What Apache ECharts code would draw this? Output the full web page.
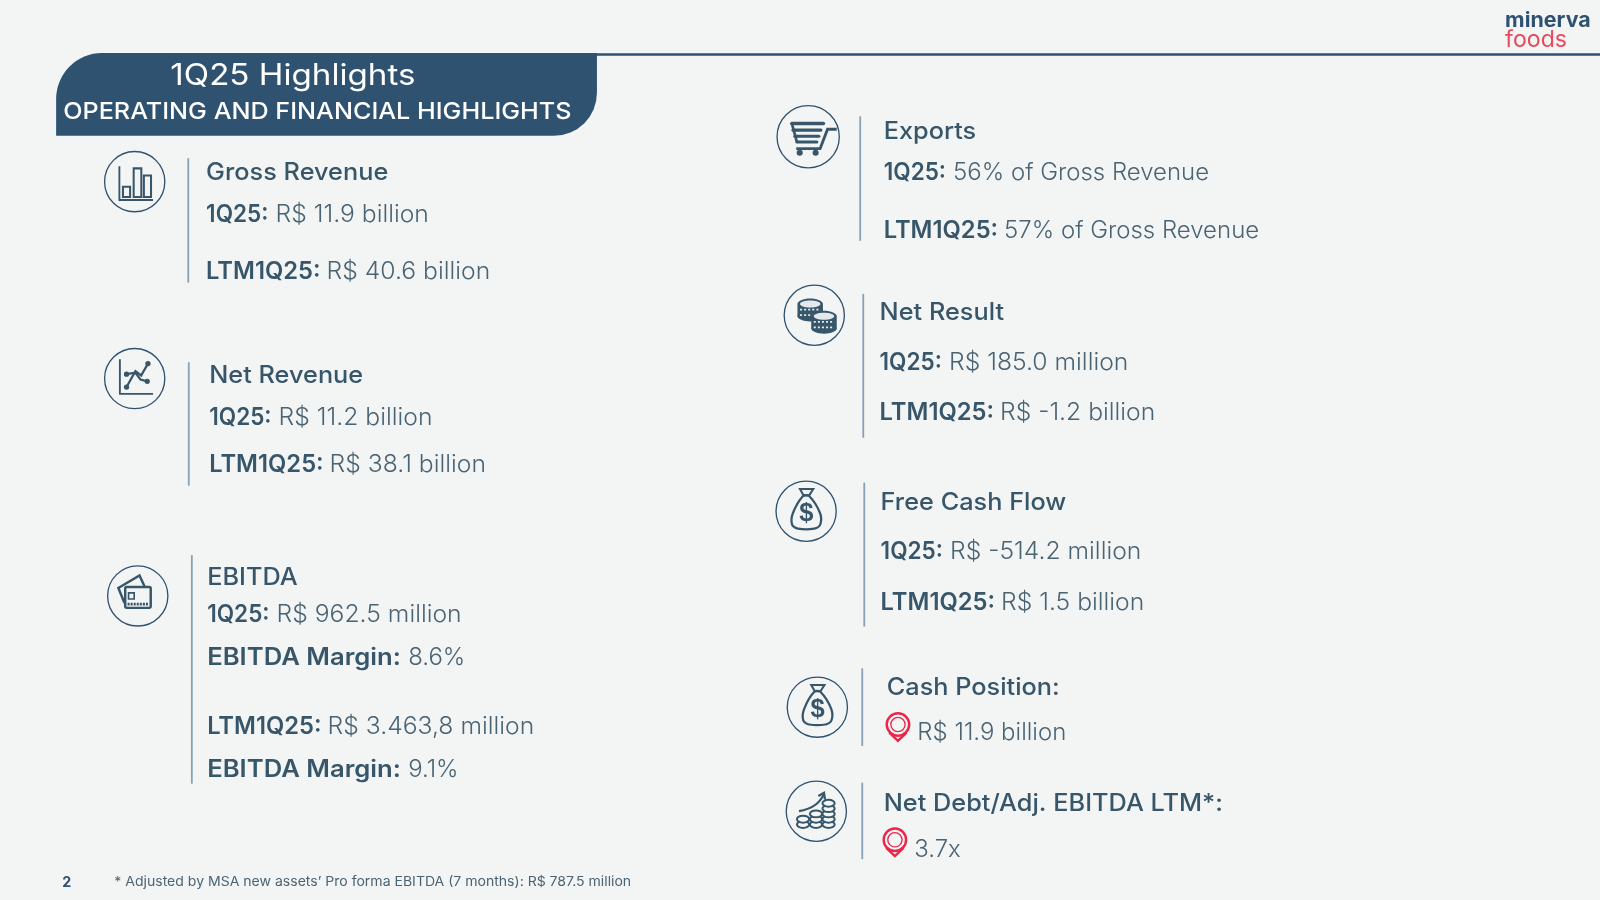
<!DOCTYPE html>
<html lang="en">
<head>
<meta charset="UTF-8">
<title>1Q25 Highlights</title>
<script src="https://cdn.jsdelivr.net/npm/echarts@6/dist/echarts.min.js"></script>
<style>
html,body{margin:0;padding:0;background:#f3f4f4;}
#main{width:1600px;height:900px;}
</style>
</head>
<body>
<div id="main"></div>
<script>
// slide text
var pageTitle = '1Q25 Highlights';
var pageSubtitle = 'OPERATING AND FINANCIAL HIGHLIGHTS';
var quarterLabel = '1Q25:';
var ltmLabel = 'LTM1Q25:';
var marginLabel = 'EBITDA Margin:';
var grossRevenue = ['Gross Revenue', 'R$ 11.9 billion', 'R$ 40.6 billion'];
var netRevenue = ['Net Revenue', 'R$ 11.2 billion', 'R$ 38.1 billion'];
var ebitda = ['EBITDA', 'R$ 962.5 million', '8.6%', 'R$ 3.463,8 million', '9.1%'];
var exportsShare = ['Exports', '56% of Gross Revenue', '57% of Gross Revenue'];
var netResult = ['Net Result', 'R$ 185.0 million', 'R$ -1.2 billion'];
var freeCashFlow = ['Free Cash Flow', 'R$ -514.2 million', 'R$ 1.5 billion'];
var cashPosition = ['Cash Position:', 'R$ 11.9 billion'];
var netDebt = ['Net Debt/Adj. EBITDA LTM*:', '3.7x'];
var footnote = '* Adjusted by MSA new assets\u2019 Pro forma EBITDA (7 months): R$ 787.5 million';
var pageNumber = '2';
var logoWords = ['minerva', 'foods'];

var NAVY = '#2f5270';
var INK = '#37566a';
var SOFT = '#4a6474';
var RED = '#e8274b';
var BAR = '#8aa2b8';
var FONT = 'Inter, "Noto Sans", sans-serif';
var NUDGE = 1.5; // Inter sits a little higher than the slide's font

// width fit and value offset per row label
function labelFit(label) {
	if (label === quarterLabel) return {sx:0.94, dx:68};
	if (label === ltmLabel) return {sx:0.99, dx:118};
	return {sx:1.07, dx:197};
}
function heading(x, y, str) {
	return {type:'text', x:x, y:y+NUDGE, scaleX:1.055, style:{text:str, font:'500 23.5px '+FONT, fill:INK, textVerticalAlign:'middle'}};
}
function pair(x, y, label, value) {
	var fit = labelFit(label);
	return {type:'group', children:[
		{type:'text', x:x, y:y+NUDGE, scaleX:fit.sx, style:{text:label, font:'600 23.5px '+FONT, fill:INK, textVerticalAlign:'middle'}},
		{type:'text', x:x+fit.dx, y:y+NUDGE, scaleX:value.indexOf('R$')===0?1.03:1, style:{text:value, font:'300 23.5px '+FONT, fill:SOFT, textVerticalAlign:'middle'}}
	]};
}
function plain(x, y, str) {
	return {type:'text', x:x, y:y+NUDGE, style:{text:str, font:'300 23.5px '+FONT, fill:SOFT, textVerticalAlign:'middle'}};
}
function vbar(x, y1, y2) {
	return {type:'line', shape:{x1:x,y1:y1,x2:x,y2:y2}, style:{stroke:BAR, lineWidth:1.8}};
}
function line(pts, w) {
	return {type:'polyline', shape:{points:pts}, style:{stroke:INK, lineWidth:w||2, fill:null}};
}
function box(x, y, w, h, lw) {
	return {type:'rect', shape:{x:x,y:y,width:w,height:h}, style:{stroke:INK, lineWidth:lw||2, fill:null}};
}
function dot(x, y, r) {
	return {type:'circle', shape:{cx:x,cy:y,r:r}, style:{fill:INK}};
}
function icon(cx, cy, r, kids) {
	return {type:'group', x:cx, y:cy, children:[
		{type:'circle', shape:{cx:0,cy:0,r:r}, style:{fill:null, stroke:NAVY, lineWidth:1.3}}
	].concat(kids)};
}

function barsIcon() {
	return [line([[-15,-15],[-15,18],[18,18]],1.8), box(-11.5,5,7,10), box(-1,-13,7.5,28), box(9,-6,7,21)];
}
function trendIcon() {
	var a = [[-8,8.3],[0.7,-7.3],[6.3,-3],[13,-14.7]], b = [[-8,-4.3],[0.7,-5.7],[5.7,1],[12.3,2.7]];
	return [line([[-14.5,-19],[-14.5,15],[18,15]],1.8), line(a,2.2), line(b,2.2),
		dot(-8,8.3,2.6), dot(13,-14.7,2.6), dot(-8,-4.3,2.6), dot(12.3,2.7,2.6)];
}
function cardIcon() {
	var dash = {type:'line', shape:{x1:-10,y1:8,x2:11,y2:8}, style:{stroke:INK, lineWidth:2.6, lineDash:[2,1]}};
	return [line([[-13,7],[-19,-7.7],[1.7,-20],[6.7,-9.3]],2.4),
		{type:'rect', shape:{x:-12.3,y:-8.7,width:25,height:20.4,r:1.5}, style:{fill:'#f3f4f4', stroke:INK, lineWidth:2.4}},
		box(-9,-3,5.5,6,1.6), dash];
}
function cartIcon() {
	var rows = [[-16,15,-13],[-15,12.5,-6.5],[-13,10.5,-0.5],[-11,8.5,5.2]], out = [];
	rows.forEach(function (q) {
		out.push({type:'line', shape:{x1:q[0],y1:q[2],x2:q[1],y2:q[2]}, style:{stroke:INK, lineWidth:q[2]==-13?3.4:3, lineCap:'round'}});
	});
	out.push(line([[-16,-13],[-11,5.2]],2.6));
	out.push(line([[28,-7.3],[19,-7.3],[11.7,11.7],[-11.7,11.7]],2.8));
	out.push(dot(-8.3,15.7,3));
	out.push(dot(7.3,15.7,3));
	return out;
}
function coinsIcon() {
	var out = [];
	// solid stacks with a pale top face and dotted rims
	[[-4,-11,3],[9.5,1,3]].forEach(function (s) {
		var h = (s[2]-1)*5;
		out.push({type:'rect', shape:{x:s[0]-12.5,y:s[1],width:25,height:h+3,r:2}, style:{fill:INK}});
		out.push({type:'ellipse', shape:{cx:s[0],cy:s[1]+h+2,rx:12.5,ry:5}, style:{fill:INK}});
		out.push({type:'ellipse', shape:{cx:s[0],cy:s[1],rx:12.5,ry:5.5}, style:{fill:INK}});
		out.push({type:'ellipse', shape:{cx:s[0],cy:s[1],rx:10,ry:3.4}, style:{fill:'#e4e8eb'}});
		for (var i = 1; i < s[2]; i++) {
			out.push({type:'line', shape:{x1:s[0]-10,y1:s[1]+i*5.4,x2:s[0]+10,y2:s[1]+i*5.4}, style:{stroke:'#e4e8eb', lineWidth:1.6, lineDash:[2,2]}});
		}
	});
	return out;
}
function bagIcon() {
	return [
		{type:'polygon', shape:{points:[[-3,-15],[-13,2],[-13.7,13.3],[-8,17],[8,17],[13.7,13.3],[13.7,2],[3,-15]], smooth:0.3}, style:{fill:null, stroke:INK, lineWidth:2.2}},
		{type:'polygon', shape:{points:[[-6,-21.7],[7,-21.7],[3,-15.5],[-2.5,-15.5]]}, style:{fill:null, stroke:INK, lineWidth:2}},
		{type:'text', x:0.3, y:2.5, style:{text:'$', font:'bold 25px "Liberation Sans", sans-serif', fill:INK, textAlign:'center', textVerticalAlign:'middle'}}
	];
}
function growthIcon() {
	var out = [];
	[[-13,2],[-0.3,3],[12,5]].forEach(function (col) {
		for (var i = 0; i < col[1]; i++) {
			out.push({type:'ellipse', shape:{cx:col[0],cy:13-i*5.2,rx:6,ry:3.4}, style:{fill:'#f3f4f4', stroke:INK, lineWidth:2}});
		}
	});
	out.push({type:'bezierCurve', shape:{x1:-17,y1:0,cpx1:-6,cpy1:-2,cpx2:3,cpy2:-7,x2:7,y2:-16}, style:{stroke:INK, lineWidth:2.2, fill:null}});
	out.push(line([[2,-15],[7.5,-18],[8.5,-11.5]],2.2));
	return out;
}
function pin(cx, cy) {
	return {type:'group', x:cx, y:cy, children:[
		{type:'polyline', shape:{points:[[-8.5,7],[0,15],[8.5,7]]}, style:{stroke:RED, lineWidth:2.4, fill:null}},
		{type:'circle', shape:{cx:0,cy:-1,r:11}, style:{fill:null, stroke:RED, lineWidth:2.4}},
		{type:'circle', shape:{cx:0,cy:-1,r:7}, style:{fill:null, stroke:RED, lineWidth:1.3}}
	]};
}

var items = [
	// header
	{type:'line', shape:{x1:560,y1:53.5,x2:1568,y2:53.5}, style:{stroke:NAVY, lineWidth:2.4}},
	{type:'rect', shape:{x:55,y:52,width:530,height:81,r:[45,0,42,0]}, style:{fill:NAVY}},
	{type:'text', x:287, y:75, scaleX:1.12, style:{text:pageTitle, font:'400 29px '+FONT, fill:'#fff', textAlign:'center', textVerticalAlign:'middle'}},
	{type:'text', x:311, y:110, scaleX:1.072, style:{text:pageSubtitle, font:'500 23px '+FONT, fill:'#fff', textAlign:'center', textVerticalAlign:'middle'}},
	// logo
	{type:'text', x:1475, y:20, scaleX:1.05, style:{text:logoWords[0], font:'700 20px '+FONT, fill:NAVY, textVerticalAlign:'middle'}},
	{type:'text', x:1475, y:39, scaleX:1.03, style:{text:logoWords[1], font:'400 22px '+FONT, fill:'#e9495f', textVerticalAlign:'middle'}},

	// left column
	icon(132,178,29.5,barsIcon()), vbar(184.5,155,277),
	heading(202,167.5,grossRevenue[0]), pair(202,209,quarterLabel,grossRevenue[1]), pair(202,265,ltmLabel,grossRevenue[2]),

	icon(132,371,29.5,trendIcon()), vbar(185,355,476),
	heading(205,367,netRevenue[0]), pair(205,408,quarterLabel,netRevenue[1]), pair(205,454,ltmLabel,netRevenue[2]),

	icon(135,584,29.5,cardIcon()), vbar(188,544,768),
	heading(203,565,ebitda[0]), pair(203,601,quarterLabel,ebitda[1]), pair(203,643,marginLabel,ebitda[2]),
	pair(203,711,ltmLabel,ebitda[3]), pair(203,753,marginLabel,ebitda[4]),

	// right column
	icon(792,134,30.5,cartIcon()), vbar(843,114,236),
	heading(866,128,exportsShare[0]), pair(866,168,quarterLabel,exportsShare[1]), pair(866,225,ltmLabel,exportsShare[2]),

	icon(798,309,29.5,coinsIcon()), vbar(846,288,429),
	heading(862,305,netResult[0]), pair(862,354.5,quarterLabel,netResult[1]), pair(862,403.5,ltmLabel,netResult[2]),

	icon(790,501,29.5,bagIcon()), vbar(847,473,614),
	heading(863,491,freeCashFlow[0]), pair(863,539.5,quarterLabel,freeCashFlow[1]), pair(863,589.5,ltmLabel,freeCashFlow[2]),

	icon(801,693,29.5,bagIcon()), vbar(845,655,731),
	heading(869,673,cashPosition[0]), pin(880,711), plain(899,717,cashPosition[1]),

	icon(800,795,29.5,growthIcon()), vbar(845,767,842),
	heading(866,786,netDebt[0]), pin(877,824), plain(896,831,netDebt[1]),

	// footer
	{type:'text', x:61, y:865, style:{text:pageNumber, font:'700 14px '+FONT, fill:NAVY, textVerticalAlign:'middle'}},
	{type:'text', x:112, y:864, scaleX:1.058, style:{text:footnote, font:'400 13px '+FONT, fill:SOFT, textVerticalAlign:'middle'}}
];

var myChart = echarts.init(document.getElementById('main'));
var S = 1600 / 1568; // layout was read at 1568 wide
var option = {
	backgroundColor: '#f3f4f4',
	animation: false,
	graphic: {elements: [{type:'group', x:0, y:0, scaleX:S, scaleY:S, children:items}]}
};
myChart.setOption(option, true);
</script>
</body>
</html>
